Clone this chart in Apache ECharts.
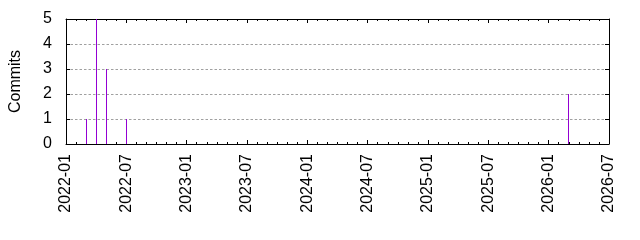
<!DOCTYPE html>
<html>
<head>
<meta charset="utf-8">
<script src="https://cdn.jsdelivr.net/npm/echarts@6/dist/echarts.min.js"></script>
<style>html,body{margin:0;padding:0;background:#fff}#c{width:640px;height:240px}</style>
</head>
<body>
<div id="c"></div>
<script>
var commitMonths = ['2022-03', '2022-04', '2022-05', '2022-07', '2026-03'];
var commitCounts = [1, 5, 3, 1, 2];
var xTickLabels = ['2022-01', '2022-07', '2023-01', '2023-07', '2024-01', '2024-07', '2025-01', '2025-07', '2026-01', '2026-07'];
var yTickLabels = ['0', '1', '2', '3', '4', '5'];

function monthIndex(s) {
  var p = s.split('-'), b = xTickLabels[0].split('-');
  return (parseInt(p[0]) - parseInt(b[0])) * 12 + (parseInt(p[1]) - parseInt(b[1]));
}
var xMax = monthIndex(xTickLabels[xTickLabels.length - 1]);
var data = commitMonths.map(function (m, i) { return [monthIndex(m), commitCounts[i]]; });

var font = 'Liberation Sans, Arial, sans-serif';
var lineStyle = { color: '#000', width: 1 };
function xAxis(pos, show) {
  return {
    type: 'value', position: pos, min: 0, max: xMax, interval: 6,
    axisLine: { show: true, onZero: false, lineStyle: lineStyle },
    axisTick: { show: true, inside: true, length: 4, lineStyle: lineStyle },
    minorTick: { show: true, splitNumber: 6, length: 2, lineStyle: lineStyle },
    splitLine: { show: false },
    axisLabel: {
      show: show, rotate: 90, margin: 10, color: '#000', fontSize: 16, fontFamily: font,
      formatter: function (v) { return xTickLabels[Math.round(v / 6)]; }
    }
  };
}
function yAxis(pos, show) {
  return {
    type: 'value', position: pos, min: 0, max: yTickLabels.length - 1, interval: 1,
    name: show ? 'Commits' : '', nameLocation: 'middle', nameRotate: 90, nameGap: 42,
    nameTextStyle: { color: '#000', fontSize: 16, fontFamily: font },
    axisLine: { show: true, onZero: false, lineStyle: lineStyle },
    axisTick: { show: true, inside: true, length: 4, lineStyle: lineStyle },
    splitLine: { show: show, lineStyle: { color: '#a0a0a0', type: [2.5, 2], width: 1 } },
    axisLabel: {
      show: show, margin: 14, color: '#000', fontSize: 16, fontFamily: font,
      formatter: function (v) { return yTickLabels[v]; }
    }
  };
}

var chart = echarts.init(document.getElementById('c'), null, { renderer: 'canvas' });
chart.setOption({
  animation: false,
  backgroundColor: '#fff',
  grid: { left: 64, right: 31, top: 19, bottom: 96 },
  xAxis: [xAxis('bottom', true), xAxis('top', false)],
  yAxis: [yAxis('left', true), yAxis('right', false)],
  series: [{
    type: 'custom', xAxisIndex: 0, yAxisIndex: 0, data: data,
    encode: { x: 0, y: 1 },
    renderItem: function (params, api) {
      var top = api.coord([api.value(0), api.value(1)]);
      var base = api.coord([api.value(0), 0]);
      return {
        type: 'rect',
        shape: { x: Math.floor(top[0]), y: top[1], width: 1, height: base[1] - top[1] },
        style: { fill: '#9400d3' }
      };
    }
  }]
});
</script>
</body>
</html>
